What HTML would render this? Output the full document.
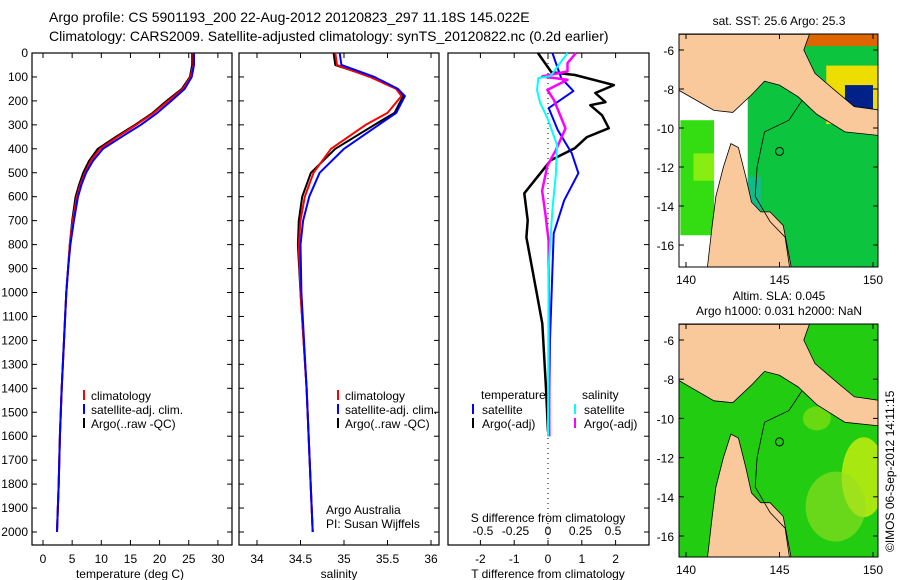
<!DOCTYPE html>
<html><head><meta charset="utf-8"><style>
html,body{margin:0;padding:0;background:#fff}
svg{display:block;font-family:"Liberation Sans",sans-serif}
</style></head><body>
<svg id="fig" width="900" height="580" viewBox="0 0 900 580">
<text x="49" y="22" font-size="14">Argo profile: CS 5901193_200 22-Aug-2012 20120823_297 11.18S 145.022E</text>
<text x="49" y="41" font-size="14">Climatology: CARS2009. Satellite-adjusted climatology: synTS_20120822.nc (0.2d earlier)</text>
<g id="plots"></g>
<text x="0" y="0" font-size="12" transform="translate(894,552) rotate(-90)">©IMOS 06-Sep-2012 14:11:15</text>
</svg>
<script>
// ---- data ----
const depthTicks=[0,100,200,300,400,500,600,700,800,900,1000,1100,1200,1300,1400,1500,1600,1700,1800,1900,2000];
const tTicks=[0,5,10,15,20,25,30];
const sTicks=[34,34.5,35,35.5,36];
const dTTicks=[-2,-1,0,1,2];
const dSTicks=[-0.5,-0.25,0,0.25,0.5];
const tempDepth=[0,50,100,150,200,250,300,350,400,450,500,550,600,700,800,900,1000,1200,1400,1600,1800,2000];
const tempClim=[25.8,25.8,25.3,24,21.5,19,16,12.8,9.8,8.2,7.2,6.4,5.8,5.1,4.6,4.3,4.0,3.6,3.2,2.9,2.7,2.4];
const tempSat=[25.9,25.9,25.5,24.3,22,19.6,16.8,13.5,10.3,8.6,7.4,6.6,6.0,5.3,4.7,4.3,4.0,3.6,3.2,2.9,2.7,2.4];
const tempArgo=[25.6,25.6,25.2,23.8,21.2,18.8,15.8,12.5,9.4,7.9,6.9,6.2,5.6,5.0,4.6,4.3,4.0,3.6,3.2,2.9,2.7,2.4];
const salDepth=[0,50,100,150,180,250,300,400,500,600,700,800,1000,1400,2000];
const salClim=[34.9,34.92,35.3,35.6,35.66,35.5,35.25,34.85,34.65,34.55,34.5,34.48,34.5,34.57,34.64];
const salSat=[34.95,34.97,35.35,35.62,35.7,35.6,35.4,35.0,34.72,34.6,34.53,34.5,34.51,34.57,34.64];
const salArgo=[34.88,34.9,35.32,35.62,35.68,35.58,35.35,34.9,34.62,34.52,34.48,34.47,34.5,34.57,34.64];
const dTArgoDepth=[0,80,92,134,167,205,218,260,314,351,397,448,586,699,770,837,1004,1130,1400,1580];
const dTArgo=[-0.3,0.1,0.8,1.95,1.4,1.7,1.25,1.6,1.8,1.15,0.8,0.08,-0.7,-0.6,-0.64,-0.55,-0.33,-0.17,-0.06,0];
const dTSatDepth=[0,105,159,230,322,418,502,615,753,908,1200,1600];
const dTSat=[0.13,0.39,0.75,0.02,0.29,0.7,0.9,0.48,0.17,0.13,0.06,0.03];
const dSSatDepth=[0,96,105,155,209,272,385,510,649,900,1600];
const dSSat=[0.15,0.02,-0.075,-0.085,-0.06,-0.005,0.07,0.06,0.035,0.005,0];
const dSArgoDepth=[0,42,77,98,112,154,196,315,406,470,575,672,784,1600];
const dSArgo=[0.215,0.15,0.15,-0.045,0.15,-0.005,0.045,0.135,0.06,-0.005,-0.045,-0.02,0.005,0.01];
const latTicks=[-6,-8,-10,-12,-14,-16];
const lonTicks=[140,145,150];

const NS='http://www.w3.org/2000/svg';
const G=document.getElementById('plots');
function el(tag,attrs,parent){const e=document.createElementNS(NS,tag);for(const k in attrs)e.setAttribute(k,attrs[k]);(parent||G).appendChild(e);return e;}
function txt(x,y,s,size,anchor,parent){const t=el('text',{x:x,y:y,'font-size':size||12,'text-anchor':anchor||'start'},parent);t.textContent=s;return t;}
const yD=d=>53+d*0.2395;
const TOP=53,BOT=545;

function panel(x0,x1,name){
  const r=el('rect',{x:x0,y:TOP,width:x1-x0,height:BOT-TOP,fill:'none',stroke:'#000','stroke-width':1.2});
  
}
function line(xs,ds,xf,color,w,name){
  const p=xs.map((v,i)=>xf(v).toFixed(1)+','+yD(ds[i]).toFixed(1)).join(' ');
  const l=el('polyline',{points:p,fill:'none',stroke:color,'stroke-width':w||2,'stroke-linejoin':'round'});
  
  
}
function xTicks(vals,xf,y,labelFn,name){
  vals.forEach(v=>{const x=xf(v);
    el('line',{x1:x,y1:BOT,x2:x,y2:BOT-5,stroke:'#000'});
    el('line',{x1:x,y1:TOP,x2:x,y2:TOP+5,stroke:'#000'});
    const t=txt(x,y,labelFn(v),12,'middle');
    
  });
}
// Panel 1: temperature
const xT=v=>43+v*5.83;
panel(32,232,'temperature-panel');
depthTicks.forEach(d=>{const y=yD(d);
  el('line',{x1:32,y1:y,x2:37,y2:y,stroke:'#000'});el('line',{x1:227,y1:y,x2:232,y2:y,stroke:'#000'});
  el('line',{x1:239,y1:y,x2:244,y2:y,stroke:'#000'});el('line',{x1:434,y1:y,x2:439,y2:y,stroke:'#000'});
  el('line',{x1:644,y1:y,x2:649,y2:y,stroke:'#000'});
  const t=txt(28,y+4,String(d),12,'end');
});
xTicks(tTicks,xT,563,v=>String(v),'temperature');
txt(130,578,'temperature (deg C)',12,'middle');
line(tempArgo,tempDepth,xT,'#000',2,'temp-argo-line');
line(tempClim,tempDepth,xT,'#f00',2,'temp-climatology-line');
line(tempSat,tempDepth,xT,'#00f',2,'temp-satellite-line');
function legend3(x,y,name){
  [['#f00','climatology'],['#00f','satellite-adj. clim.'],['#000','Argo(..raw -QC)']].forEach((e,i)=>{
    el('line',{x1:x,y1:y+i*14-10,x2:x,y2:y+i*14,stroke:e[0],'stroke-width':2});
    const t=txt(x+7,y+i*14,e[1],12);
  });
}
legend3(84,400,'temperature-legend');
// Panel 2: salinity
const xS=v=>257+(v-34)*87;
panel(239,439,'salinity-panel');
xTicks(sTicks,xS,563,v=>String(v),'salinity');
txt(339,578,'salinity',12,'middle');
line(salArgo,salDepth,xS,'#000',2,'sal-argo-line');
line(salClim,salDepth,xS,'#f00',2,'sal-climatology-line');
line(salSat,salDepth,xS,'#00f',2,'sal-satellite-line');
legend3(338,400,'salinity-legend');
txt(326,514,'Argo Australia',12);
txt(326,528,'PI: Susan Wijffels',12);
// Panel 3: differences
const xdT=v=>548+v*33.8, xdS=v=>548+v*130;
panel(448,649,'difference-panel');
dTTicks.forEach(v=>{const x=xdT(v);el('line',{x1:x,y1:BOT,x2:x,y2:BOT-5,stroke:'#000'});el('line',{x1:x,y1:TOP,x2:x,y2:TOP+5,stroke:'#000'});
  const t=txt(x,563,String(v),12,'middle');});
dSTicks.forEach(v=>{const x=xdS(v);
  const t=txt(x,535,String(v),12,'middle');});
txt(548,522,'S difference from climatology',12,'middle');
txt(548,578,'T difference from climatology',12,'middle');
el('line',{x1:548,y1:53,x2:548,y2:545,stroke:'#000','stroke-dasharray':'1,4'});
line(dTArgo,dTArgoDepth,xdT,'#000',2.5,'t-diff-argo-line');
line(dTSat,dTSatDepth,xdT,'#00f',2,'t-diff-satellite-line');
line(dSArgo,dSArgoDepth,xdS,'#f0f',2.5,'s-diff-argo-line');
line(dSSat,dSSatDepth,xdS,'#0ff',2,'s-diff-satellite-line');
txt(481,399,'temperature',12);
txt(582,399,'salinity',12);
[['#00f','satellite',473],['#000','Argo(-adj)',473],['#0ff','satellite',575],['#f0f','Argo(-adj)',575]].forEach((e,i)=>{
  const y=414+(i%2)*14;el('line',{x1:e[2],y1:y-10,x2:e[2],y2:y,stroke:e[0],'stroke-width':2});
  const t=txt(e[2]+9,y,e[1],12);
});
// Maps
const lx=v=>686+(v-140)*18.7;
const landPNG=[[139.5,-5.2],[146.6,-5.2],[146.3,-6],[146.9,-7.2],[148,-8.1],[149,-8.9],[150.5,-9.1],[150.5,-10.4],[148.5,-10.2],[147,-9.3],[146,-8.4],[145,-7.8],[144.2,-7.6],[143.5,-8.3],[142.5,-9.2],[141.5,-9.1],[139.5,-8]];
const landAus=[[141.1,-17.5],[141.4,-15],[141.6,-13.5],[142,-12],[142.4,-10.8],[142.8,-11],[143.2,-12.5],[143.5,-13.8],[144,-14.3],[144.5,-14.3],[145.2,-15],[145.4,-16],[145.7,-17.5]];
function map(top,bot,latYa,latYb,title,name,isSST){
  const ly=v=>latYa+(v+6)*(latYb-latYa)/(-10);
  const g=el('g',{});
  const cid='clip'+name;const cp=el('clipPath',{id:cid},g);el('rect',{x:679,y:top,width:199,height:bot-top},cp);
  const gc=el('g',{'clip-path':'url(#'+cid+')'},g);
  el('rect',{x:679,y:top,width:199,height:bot-top,fill:isSST?'#0cc43e':'#22cc11'},gc);
  if(isSST){
    el('rect',{x:lx(139.5),y:ly(-8),width:lx(143.3)-lx(139.5),height:ly(-17.5)-ly(-8),fill:'#fff'},gc);
    el('rect',{x:lx(139.7),y:ly(-9.6),width:lx(141.5)-lx(139.7),height:ly(-15.5)-ly(-9.6),fill:'#33dd11'},gc);
    el('rect',{x:lx(140.4),y:ly(-11.3),width:lx(141.5)-lx(140.4),height:ly(-12.7)-ly(-11.3),fill:'#88ee11'},gc);
    el('rect',{x:lx(143.3),y:ly(-12.5),width:lx(144)-lx(143.3),height:ly(-17.5)-ly(-12.5),fill:'#11bb88'},gc);
    el('rect',{x:lx(147.5),y:ly(-6.8),width:lx(150.5)-lx(147.5),height:ly(-9.8)-ly(-6.8),fill:'#eedd00'},gc);
    el('rect',{x:lx(148.5),y:ly(-7.8),width:lx(150)-lx(148.5),height:ly(-9.8)-ly(-7.8),fill:'#002288'},gc);
    el('rect',{x:lx(146),y:ly(-5.2),width:lx(150.5)-lx(146),height:ly(-5.8)-ly(-5.2),fill:'#dd6600'},gc);
  } else {
    el('ellipse',{cx:lx(149.5),cy:ly(-13),rx:22,ry:40,fill:'#ccee11',opacity:0.8},gc);
    el('ellipse',{cx:lx(148),cy:ly(-14.5),rx:30,ry:35,fill:'#99dd22',opacity:0.6},gc);
    el('ellipse',{cx:lx(147),cy:ly(-10),rx:14,ry:12,fill:'#88e011',opacity:0.7},gc);
  }
  [landPNG,landAus].forEach(poly=>{
    el('polygon',{points:poly.map(p=>lx(p[0]).toFixed(1)+','+ly(p[1]).toFixed(1)).join(' '),fill:'#f9c89b',stroke:'#000','stroke-width':0.8},gc);
  });
  const contour=[[146.2,-8.6],[145.5,-9.6],[144.2,-10.2],[143.8,-12],[143.7,-13.5],[144.5,-14.8],[145.3,-15.6],[145.6,-17.5]];
  el('polyline',{points:contour.map(p=>lx(p[0]).toFixed(1)+','+ly(p[1]).toFixed(1)).join(' '),fill:'none',stroke:'#000','stroke-width':0.8},gc);
  el('circle',{cx:lx(145),cy:ly(-11.2),r:4,fill:'none',stroke:'#000'},gc);
  el('rect',{x:679,y:top,width:199,height:bot-top,fill:'none',stroke:'#000'},g);
  latTicks.forEach(v=>{const y=ly(v);el('line',{x1:679,y1:y,x2:684,y2:y,stroke:'#000'},g);el('line',{x1:873,y1:y,x2:878,y2:y,stroke:'#000'},g);txt(674,y+5,String(v),12,'end',g);});
  lonTicks.forEach(v=>{const x=lx(v);el('line',{x1:x,y1:top,x2:x,y2:top+5,stroke:'#000'},g);el('line',{x1:x,y1:bot,x2:x,y2:bot-5,stroke:'#000'},g);txt(x,bot+17,String(v),12,'middle',g);});
  title.forEach((s,i)=>txt(779,top-24+i*15+(title.length==1?15:0),s,12,'middle',g));
}
map(34,267,50,245,['sat. SST: 25.6 Argo: 25.3'],'sst-map',true);
map(324,557,340,536,['Altim. SLA: 0.045','Argo h1000: 0.031 h2000: NaN'],'sla-map',false);
</script>
</body></html>
